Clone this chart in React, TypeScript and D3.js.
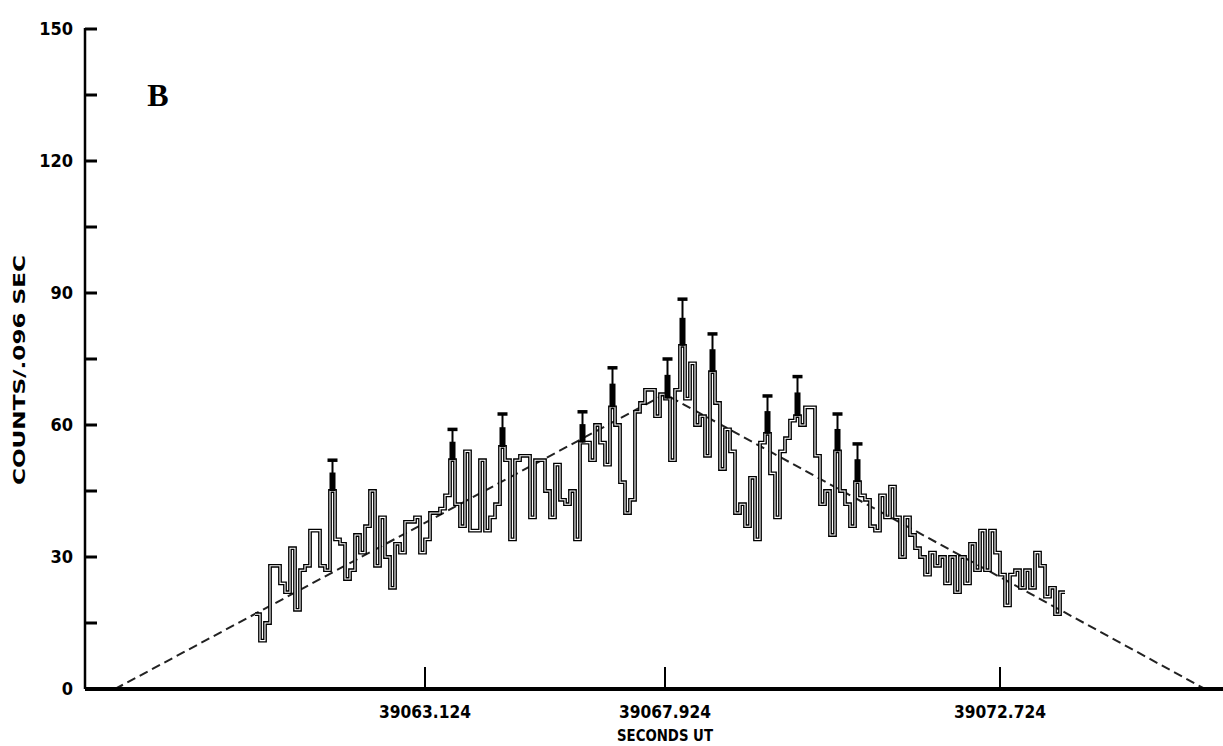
import React from 'react';
import * as d3 from 'd3';

// counts per 0.096 s bin left to right
const counts = [
  17, 11, 15, 28, 28, 24, 22, 32, 18, 27, 28, 36, 36, 28, 27, 45, 34, 33, 25, 27,
  35, 31, 37, 45, 28, 39, 30, 23, 33, 31, 38, 38, 39, 31, 34, 40, 40, 41, 44, 52,
  42, 37, 54, 36, 36, 52, 36, 39, 42, 55, 52, 34, 52, 53, 53, 39, 52, 52, 45, 39,
  51, 43, 42, 45, 34, 56, 56, 52, 60, 56, 51, 64, 60, 47, 40, 43, 63, 65, 68, 68,
  62, 67, 66, 52, 68, 78, 66, 74, 60, 62, 53, 72, 65, 50, 59, 54, 40, 42, 37, 48,
  34, 56, 58, 49, 39, 54, 57, 61, 62, 60, 64, 64, 53, 42, 45, 35, 54, 45, 42, 37,
  47, 44, 43, 37, 36, 44, 39, 46, 39, 30, 39, 35, 32, 30, 26, 31, 28, 30, 24, 30,
  22, 30, 24, 33, 27, 36, 27, 36, 31, 26, 19, 26, 27, 23, 27, 23, 31, 28, 21, 23,
  17, 22,
];

// error bars: bin index and top of the bar
const errBins = [15, 39, 49, 65, 71, 82, 85, 91, 102, 108, 116, 120];
const errTops = [52, 59, 62.5, 63, 73, 75, 88.6, 80.7, 66.6, 71, 62.5, 55.7];

// dashed triangle fit (bin position, counts)
const fitBins = [-28, 82, 190];
const fitCounts = [0, 67, 0];

// x ticks (bin position + label)
const xTickBins = [34, 82, 149];
const xTickLabels = ['39063.124', '39067.924', '39072.724'];

const yTicks = [0, 15, 30, 45, 60, 75, 90, 105, 120, 135, 150];
const yTickLabels = ['0', '', '30', '', '60', '', '90', '', '120', '', '150'];

const W = 1223;
const H = 746;
const font = "'DejaVu Sans Condensed', 'DejaVu Sans', sans-serif";

const App = () => {
  const x = d3.scaleLinear().domain([-34, 193.6]).range([85, 1223]);
  const y = d3.scaleLinear().domain([0, 150]).range([689, 29]);

  const stepPts: [number, number][] = counts.map((c, i) => [i, c]);
  stepPts.push([counts.length, counts[counts.length - 1]]);
  const step = d3
    .line<[number, number]>()
    .x((d) => x(d[0]))
    .y((d) => y(d[1]))
    .curve(d3.curveStepAfter);

  const fitLine = d3
    .line<number>()
    .x((d) => x(fitBins[d]))
    .y((d) => y(fitCounts[d]));

  const histD = step(stepPts) || '';

  return (
    <svg
      width={W}
      height={H}
      style={{ position: 'absolute', left: 0, top: 0, background: '#fff' }}
    >
      {/* dashed fit */}
      <path
        d={fitLine(d3.range(fitBins.length)) || ''}
        fill="none"
        stroke="#222"
        strokeWidth={2}
        strokeDasharray="9 5"
      />

      {/* histogram, drawn hollow like the scanned ink */}
      <path d={histD} fill="none" stroke="#000" strokeWidth={3.8} />
      <path d={histD} fill="none" stroke="#fff" strokeWidth={1.1} />

      {/* error bars */}
      {errBins.map((b, i) => {
        const cx = x(b + 0.5);
        const v = counts[b];
        const top = errTops[i];
        const mid = v + (top - v) * 0.6;
        return (
          <g key={'e' + i}>
            <line x1={cx} x2={cx} y1={y(v)} y2={y(top)} stroke="#000" strokeWidth={2} />
            <rect x={cx - 3} width={6} y={y(mid)} height={y(v) - y(mid)} fill="#000" />
            <line x1={cx - 5} x2={cx + 5} y1={y(top)} y2={y(top)} stroke="#000" strokeWidth={3.5} />
          </g>
        );
      })}

      {/* y axis */}
      <line x1={x(-34)} x2={x(-34)} y1={y(150) - 1} y2={y(0)} stroke="#000" strokeWidth={2.5} />
      {yTicks.map((t, i) => (
        <g key={'y' + t}>
          <line x1={x(-34)} x2={x(-34) + 12} y1={y(t)} y2={y(t)} stroke="#000" strokeWidth={3} />
          {yTickLabels[i] && (
            <text
              x={73}
              y={y(t)}
              dy="0.36em"
              textAnchor="end"
              fontFamily={font}
              fontWeight="bold"
              fontSize={18}
            >
              {yTickLabels[i]}
            </text>
          )}
        </g>
      ))}

      {/* x axis */}
      <line x1={x(-34)} x2={W} y1={y(0)} y2={y(0)} stroke="#000" strokeWidth={4} />
      {xTickBins.map((b, i) => (
        <g key={'x' + i}>
          <line x1={x(b)} x2={x(b)} y1={y(0) - 22} y2={y(0)} stroke="#000" strokeWidth={2} />
          <text
            x={x(b)}
            y={718}
            textAnchor="middle"
            fontFamily={font}
            fontWeight="bold"
            fontSize={18}
            textLength={92}
            lengthAdjust="spacingAndGlyphs"
          >
            {xTickLabels[i]}
          </text>
        </g>
      ))}

      <text
        x={x(82)}
        y={741}
        textAnchor="middle"
        fontFamily={font}
        fontWeight="bold"
        fontSize={16}
        textLength={96}
        lengthAdjust="spacingAndGlyphs"
      >
        SECONDS UT
      </text>

      <text
        transform="translate(25,370) rotate(-90)"
        textAnchor="middle"
        fontFamily={font}
        fontWeight="bold"
        fontSize={15}
        textLength={230}
        lengthAdjust="spacingAndGlyphs"
      >
        COUNTS/.096 SEC
      </text>

      <text
        x={158}
        y={106}
        textAnchor="middle"
        fontFamily="'Liberation Serif', serif"
        fontWeight="bold"
        fontSize={32}
      >
        B
      </text>
    </svg>
  );
};

export default App;
